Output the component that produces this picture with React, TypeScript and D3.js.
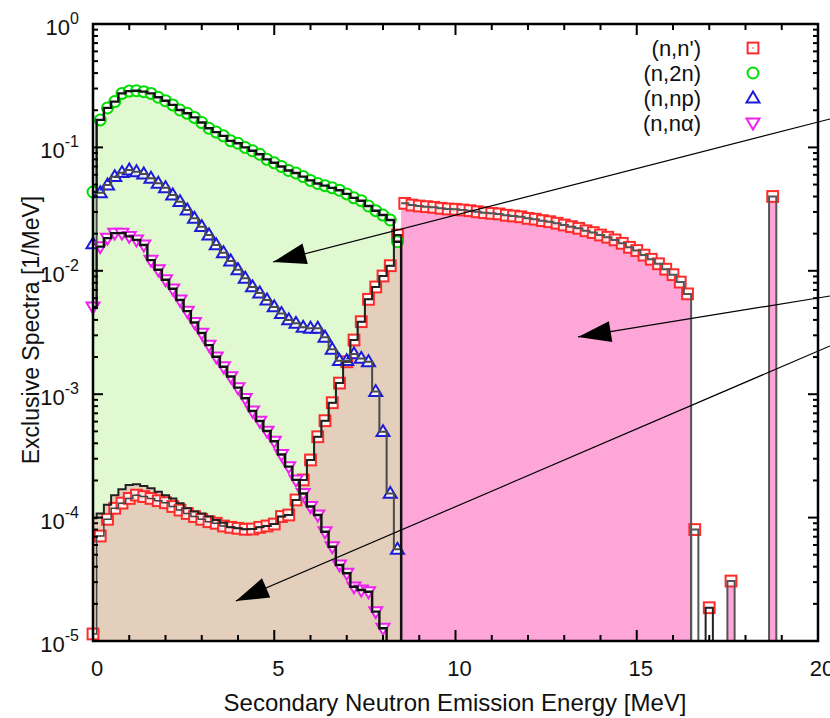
import React from 'react';
import * as d3 from 'd3';

// energy grid of the continuum part [MeV]
const contE = [0, 0.2, 0.4, 0.6, 0.8, 1.0, 1.2, 1.4, 1.6, 1.8, 2.0, 2.2, 2.4, 2.6, 2.8, 3.0, 3.2, 3.4, 3.6, 3.8,
  4.0, 4.2, 4.4, 4.6, 4.8, 5.0, 5.2, 5.4, 5.6, 5.8, 6.0, 6.2, 6.4, 6.6, 6.8, 7.0, 7.2, 7.4, 7.6, 7.8, 8.0, 8.2, 8.4];

const n2n = [0.0435, 0.167, 0.209, 0.235, 0.274, 0.286, 0.288, 0.283, 0.274, 0.255, 0.239, 0.221, 0.201, 0.189,
  0.175, 0.159, 0.143, 0.133, 0.124, 0.113, 0.108, 0.100, 0.094, 0.088, 0.080, 0.075, 0.070, 0.065, 0.062, 0.058,
  0.054, 0.051, 0.049, 0.047, 0.045, 0.042, 0.039, 0.037, 0.0335, 0.0307, 0.0283, 0.0258, 0.0172];

const nnp = [0.0165, 0.0429, 0.0496, 0.0579, 0.0624, 0.0656, 0.0635, 0.0609, 0.0562, 0.0512, 0.0471, 0.0411,
  0.0363, 0.0311, 0.0266, 0.0228, 0.0195, 0.0162, 0.0140, 0.0120, 0.0102, 0.0087, 0.0074, 0.0066, 0.0058, 0.0051,
  0.0045, 0.0040, 0.00375, 0.00348, 0.00342, 0.00342, 0.00289, 0.00231, 0.00187, 0.00187, 0.00212, 0.00195,
  0.00183, 0.00105, 0.000497, 0.000157, 0.0000553];

// (n,na) stops at 8.0 MeV
const nnAlpha = [0.00509, 0.0157, 0.0184, 0.0202, 0.0202, 0.0190, 0.0178, 0.0162, 0.0122, 0.0102, 0.00847, 0.00715,
  0.0058, 0.00471, 0.00381, 0.00313, 0.0025, 0.00201, 0.00167, 0.00139, 0.00113, 0.000926, 0.000731, 0.000606,
  0.000503, 0.000416, 0.000325, 0.000259, 0.000202, 0.000157, 0.000123, 0.000105, 0.0000769, 0.0000581, 0.0000413,
  0.0000354, 0.0000275, 0.0000259, 0.0000251, 0.0000173, 0.0000127];

const nnCont = [1.14e-5, 7.09e-5, 9.69e-5, 1.19e-4, 1.31e-4, 1.43e-4, 1.52e-4, 1.48e-4, 1.43e-4, 1.37e-4, 1.32e-4,
  1.23e-4, 1.15e-4, 1.08e-4, 1.02e-4, 9.69e-5, 9.26e-5, 8.99e-5, 8.55e-5, 8.34e-5, 8.19e-5, 8.04e-5, 8.08e-5,
  8.34e-5, 8.55e-5, 8.87e-5, 1.02e-4, 1.05e-4, 1.39e-4, 2.02e-4, 2.93e-4, 4.52e-4, 6.10e-4, 8.53e-4, 1.23e-3,
  1.83e-3, 2.75e-3, 3.87e-3, 5.87e-3, 7.39e-3, 9.07e-3, 1.10e-2, 1.95e-2];

// upper edge of the brown continuum area
const nnEnvelope = [9.87e-5, 1.08e-4, 1.27e-4, 1.52e-4, 1.70e-4, 1.84e-4, 1.86e-4, 1.80e-4, 1.73e-4, 1.62e-4,
  1.52e-4, 1.43e-4, 1.31e-4, 1.19e-4, 1.12e-4, 1.08e-4, 1.02e-4, 9.56e-5, 9.09e-5, 8.34e-5, 8.19e-5, 8.04e-5,
  8.08e-5, 8.34e-5, 8.55e-5, 8.87e-5, 1.02e-4, 1.05e-4, 1.39e-4, 2.02e-4, 2.93e-4, 4.52e-4, 6.10e-4, 8.53e-4,
  1.23e-3, 1.83e-3, 2.75e-3, 3.87e-3, 5.87e-3, 7.39e-3, 9.07e-3, 1.10e-2, 1.95e-2];

// discrete levels of (n,n')
const discE = [8.6, 8.8, 9.0, 9.2, 9.4, 9.6, 9.8, 10.0, 10.2, 10.4, 10.6, 10.8, 11.0, 11.2, 11.4, 11.6, 11.8, 12.0,
  12.2, 12.4, 12.6, 12.8, 13.0, 13.2, 13.4, 13.6, 13.8, 14.0, 14.2, 14.4, 14.6, 14.8, 15.0, 15.2, 15.4, 15.6, 15.8,
  16.0, 16.2, 16.4];
const discVals = [0.0352, 0.0341, 0.0335, 0.0331, 0.0327, 0.0321, 0.0317, 0.0315, 0.0311, 0.0307, 0.0301, 0.0296,
  0.0292, 0.0289, 0.0282, 0.0278, 0.0274, 0.0266, 0.0262, 0.0255, 0.0250, 0.0243, 0.0235, 0.0228, 0.0221, 0.0211,
  0.0204, 0.0195, 0.0187, 0.0178, 0.0167, 0.0155, 0.0146, 0.0134, 0.0124, 0.0114, 0.0103, 0.0093, 0.0081, 0.0065];

const spikeE = [16.6, 17.0, 17.6, 18.75];
const spikeVals = [8.0e-5, 1.86e-5, 3.06e-5, 0.040];
const spikeFilled = [false, false, true, true];

const xTicks = [0, 5, 10, 15, 20];
const yDecades = [1e-5, 1e-4, 1e-3, 1e-2, 1e-1, 1];
const yExps = ['-5', '-4', '-3', '-2', '-1', '0'];

const legendLabels = ["(n,n')", '(n,2n)', '(n,np)', '(n,nα)'];

// arrows in data coordinates: [E, value]
const arrowFrom = [[20.33, 0.17], [20.33, 0.00625], [20.33, 0.00246]];
const arrowTo = [[4.97, 0.0118], [13.38, 0.00291], [3.94, 2.11e-5]];

const BW = 0.1; // half bin width
const FLOOR = 1e-5;

const COL = {
  green: '#00dd00', red: '#ff2a2a', blue: '#1c1cd8', magenta: '#ee22ee',
  greenFill: '#e1f9d0', tanFill: '#e3cfbc', pinkFill: '#ffa6d9',
};

const Marker = ({ type, cx, cy, color }) => {
  const sw = 2;
  if (type === 'square') {
    return (
      <g>
        <rect x={cx - 5.4} y={cy - 5.4} width={10.8} height={10.8} fill="#fff" fillOpacity={0.85} stroke={color} strokeWidth={sw} />
        <circle cx={cx} cy={cy} r={0.8} fill={color} />
      </g>
    );
  }
  if (type === 'circle') {
    return <circle cx={cx} cy={cy} r={5.5} fill="#fff" fillOpacity={0.85} stroke={color} strokeWidth={sw} />;
  }
  if (type === 'up') {
    return <polygon points={`${cx},${cy - 6.5} ${cx - 6.5},${cy + 4.4} ${cx + 6.5},${cy + 4.4}`} fill="#fff" fillOpacity={0.85} stroke={color} strokeWidth={sw} />;
  }
  return <polygon points={`${cx},${cy + 6.5} ${cx - 6.5},${cy - 4.4} ${cx + 6.5},${cy - 4.4}`} fill="#fff" fillOpacity={0.85} stroke={color} strokeWidth={sw} />;
};

const App = () => {
  const left = 93, right = 818, top = 24, bottom = 641;
  const x = d3.scaleLinear().domain([0, 20]).range([left, right]);
  const y = d3.scaleLog().domain([FLOOR, 1]).range([bottom, top]);

  // histogram edges from bin centres
  const stepPts = (E, V) => {
    const pts = E.map((e, i) => [Math.max(0, e - BW), V[i]]);
    pts.push([E[E.length - 1] + BW, V[V.length - 1]]);
    return pts;
  };
  const line = d3.line().x(d => x(d[0])).y(d => y(d[1])).curve(d3.curveStepAfter);
  const area = d3.area().x(d => x(d[0])).y0(y(FLOOR)).y1(d => y(d[1])).curve(d3.curveStepAfter);
  const withDrop = pts => pts.concat([[pts[pts.length - 1][0], FLOOR]]);

  const alphaE = contE.slice(0, nnAlpha.length);

  const series = [
    { E: contE, V: nnCont, type: 'square', color: COL.red },
    { E: contE, V: n2n, type: 'circle', color: COL.green },
    { E: contE, V: nnp, type: 'up', color: COL.blue },
    { E: alphaE, V: nnAlpha, type: 'down', color: COL.magenta },
  ];

  const minorX = d3.range(0, 21, 1);
  const minorY = y.ticks();

  const arrowHead = (fx, fy, tx, ty) => {
    const dx = fx - tx, dy = fy - ty;
    const len = Math.sqrt(dx * dx + dy * dy);
    const ux = dx / len, uy = dy / len;
    const L = 33, hw = 10.5;
    const bx = tx + ux * L, by = ty + uy * L;
    return `${tx},${ty} ${bx - uy * hw},${by + ux * hw} ${bx + uy * hw},${by - ux * hw}`;
  };

  const font = '"Liberation Sans", Arial, Helvetica, sans-serif';

  return (
    <svg width={830} height={718} style={{ display: 'block', position: 'absolute', left: 0, top: 0, fontFamily: font }}>
      <defs>
        <clipPath id="plotClip">
          <rect x={left} y={top} width={right - left} height={bottom - top} />
        </clipPath>
      </defs>

      <g clipPath="url(#plotClip)">
        {/* filled areas */}
        <path d={area(stepPts(contE, n2n))} fill={COL.greenFill} />
        <path d={area(stepPts(contE, nnEnvelope))} fill={COL.tanFill} />
        <path d={area(stepPts(discE, discVals))} fill={COL.pinkFill} />
        {spikeE.map((e, i) => (
          <rect key={'sf' + i} x={x(e - BW)} y={y(spikeVals[i])} width={x(e + BW) - x(e - BW)}
            height={y(FLOOR) - y(spikeVals[i])} fill={spikeFilled[i] ? COL.pinkFill : 'none'} />
        ))}
      </g>

      {/* markers (not clipped, as in the original) */}
      {series.map((s, si) => s.E.map((e, i) => (
        <Marker key={`m${si}-${i}`} type={s.type} cx={x(e)} cy={y(s.V[i])} color={s.color} />
      )))}
      {discE.map((e, i) => (
        <Marker key={'md' + i} type="square" cx={x(e)} cy={y(discVals[i])} color={COL.red} />
      ))}
      {spikeE.map((e, i) => (
        <Marker key={'ms' + i} type="square" cx={x(e)} cy={y(spikeVals[i])} color={COL.red} />
      ))}

      <g clipPath="url(#plotClip)">
        {/* step lines */}
        <path d={line(withDrop(stepPts(discE, discVals)))} fill="none" stroke="#555" strokeWidth={2} />
        {spikeE.map((e, i) => (
          <path key={'sl' + i} d={`M${x(e - BW)},${y(FLOOR)}V${y(spikeVals[i])}H${x(e + BW)}V${y(FLOOR)}`}
            fill="none" stroke={i === 1 ? '#222' : '#555'} strokeWidth={2} />
        ))}
        <path d={line(stepPts(contE, nnCont))} fill="none" stroke="#444" strokeWidth={1.5} />
        <path d={line(withDrop(stepPts(contE, nnEnvelope)))} fill="none" stroke="#222" strokeWidth={2} />
        <path d={line(withDrop(stepPts(contE, nnp)))} fill="none" stroke="#4a4a4a" strokeWidth={2} />
        <path d={line(withDrop(stepPts(alphaE, nnAlpha)))} fill="none" stroke="#111" strokeWidth={2.4} />
        <path d={line(withDrop(stepPts(contE, n2n)))} fill="none" stroke="#111" strokeWidth={2.4} />
      </g>

      {/* arrows */}
      {arrowFrom.map((f, i) => {
        const fx = x(f[0]), fy = y(f[1]), tx = x(arrowTo[i][0]), ty = y(arrowTo[i][1]);
        return (
          <g key={'a' + i}>
            <line x1={fx} y1={fy} x2={tx} y2={ty} stroke="#000" strokeWidth={1.2} />
            <polygon points={arrowHead(fx, fy, tx, ty)} fill="#000" />
          </g>
        );
      })}

      {/* frame and ticks */}
      <rect x={left} y={top} width={right - left} height={bottom - top} fill="none" stroke="#000" strokeWidth={2.5} />
      {minorX.map(t => {
        const major = t % 5 === 0;
        const len = major ? 11 : 6;
        return (
          <g key={'xt' + t}>
            <line x1={x(t)} x2={x(t)} y1={bottom} y2={bottom - len} stroke="#000" strokeWidth={2} />
            <line x1={x(t)} x2={x(t)} y1={top} y2={top + len} stroke="#000" strokeWidth={2} />
          </g>
        );
      })}
      {minorY.map((t, i) => {
        const major = yDecades.some(d => Math.abs(d - t) / d < 1e-6);
        const len = major ? 10 : 5;
        return (
          <g key={'yt' + i}>
            <line x1={left} x2={left + len} y1={y(t)} y2={y(t)} stroke="#000" strokeWidth={2} />
            <line x1={right} x2={right - len} y1={y(t)} y2={y(t)} stroke="#000" strokeWidth={2} />
          </g>
        );
      })}

      {/* tick labels */}
      {xTicks.map(t => (
        <text key={'xl' + t} x={x(t) + 4} y={676} textAnchor="middle" fontSize={22} fill="#111">{t}</text>
      ))}
      {yDecades.map((d, i) => (
        <text key={'yl' + i} x={79} y={y(d) + 11} textAnchor="end" fontSize={22} fill="#111">
          10<tspan dy={-11} fontSize={16}>{yExps[i]}</tspan>
        </text>
      ))}

      {/* axis titles */}
      <text x={455} y={711} textAnchor="middle" fontSize={24} fill="#111">Secondary Neutron Emission Energy [MeV]</text>
      <text transform="translate(39,330) rotate(-90)" textAnchor="middle" fontSize={23} fill="#111">Exclusive Spectra [1/MeV]</text>

      {/* legend */}
      {legendLabels.map((lab, i) => {
        const cy = 48 + i * 25;
        const types = ['square', 'circle', 'up', 'down'];
        const cols = [COL.red, COL.green, COL.blue, COL.magenta];
        return (
          <g key={'lg' + i}>
            <text x={701} y={cy + 8} textAnchor="end" fontSize={22} fill="#111">{lab}</text>
            <Marker type={types[i]} cx={753} cy={cy} color={cols[i]} />
          </g>
        );
      })}
    </svg>
  );
};

export default App;
